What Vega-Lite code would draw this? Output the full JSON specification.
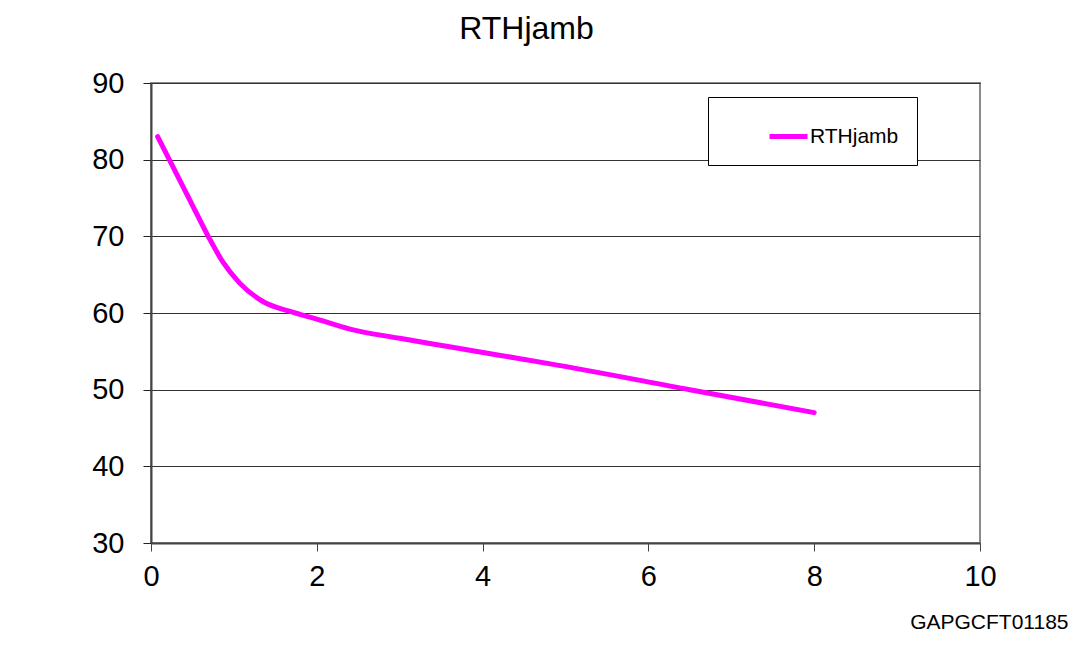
{
  "$schema": "https://vega.github.io/schema/vega-lite/v6.json",
  "width": 829,
  "height": 460,
  "autosize": "none",
  "padding": {"left": 151, "top": 83, "right": 110, "bottom": 103},
  "background": "white",
  "title": {
    "text": "RTHjamb",
    "font": "Liberation Sans",
    "fontSize": 32,
    "fontWeight": "normal",
    "color": "black",
    "anchor": "middle",
    "frame": "group",
    "dx": -39,
    "baseline": "alphabetic",
    "offset": -2
  },
  "config": {
    "view": {"stroke": "#8a8a8a", "strokeWidth": 2},
    "font": "Liberation Sans"
  },
  "data": {
    "values": [
      {"x": 0.08, "y": 83.0, "series": "RTHjamb"},
      {"x": 0.47, "y": 74.7, "series": "RTHjamb"},
      {"x": 0.69, "y": 70.0, "series": "RTHjamb"},
      {"x": 0.87, "y": 66.6, "series": "RTHjamb"},
      {"x": 1.07, "y": 63.9, "series": "RTHjamb"},
      {"x": 1.35, "y": 61.5, "series": "RTHjamb"},
      {"x": 1.68, "y": 60.2, "series": "RTHjamb"},
      {"x": 2.0, "y": 59.2, "series": "RTHjamb"},
      {"x": 2.4, "y": 57.9, "series": "RTHjamb"},
      {"x": 3.0, "y": 56.7, "series": "RTHjamb"},
      {"x": 3.6, "y": 55.6, "series": "RTHjamb"},
      {"x": 4.2, "y": 54.5, "series": "RTHjamb"},
      {"x": 4.8, "y": 53.4, "series": "RTHjamb"},
      {"x": 6.5, "y": 50.0, "series": "RTHjamb"},
      {"x": 8.0, "y": 47.0, "series": "RTHjamb"}
    ]
  },
  "mark": {"type": "line", "strokeWidth": 5, "strokeCap": "round", "interpolate": "monotone", "clip": false},
  "encoding": {
    "x": {
      "field": "x",
      "type": "quantitative",
      "scale": {"domain": [0, 10], "nice": false, "zero": false},
      "axis": {
        "values": [0, 2, 4, 6, 8, 10],
        "grid": false,
        "domainColor": "#444444",
        "domainWidth": 2,
        "tickColor": "#444444",
        "tickWidth": 1,
        "tickSize": 8,
        "labelFont": "Liberation Sans",
        "labelFontSize": 29,
        "labelColor": "black",
        "labelPadding": 11,
        "labelFlush": false,
        "title": "GAPGCFT01185",
        "titleFont": "Liberation Sans",
        "titleFontSize": 21,
        "titleFontWeight": "normal",
        "titleColor": "black",
        "titleX": 917,
        "titleY": 85,
        "titleAlign": "right",
        "titleBaseline": "alphabetic",
        "titleAnchor": "end"
      }
    },
    "y": {
      "field": "y",
      "type": "quantitative",
      "scale": {"domain": [30, 90], "nice": false, "zero": false},
      "axis": {
        "values": [30, 40, 50, 60, 70, 80, 90],
        "grid": true,
        "gridColor": "#333333",
        "gridWidth": 1,
        "domainColor": "#444444",
        "domainWidth": 2,
        "tickColor": "#222222",
        "tickWidth": 1,
        "tickSize": 8,
        "labelFont": "Liberation Sans",
        "labelFontSize": 29,
        "labelColor": "black",
        "labelPadding": 19,
        "labelFlush": false,
        "title": null
      }
    },
    "color": {
      "field": "series",
      "type": "nominal",
      "scale": {"domain": ["RTHjamb"], "range": ["#FF00FF"]},
      "legend": {
        "orient": "none",
        "legendX": 557,
        "legendY": 14,
        "title": null,
        "strokeColor": "black",
        "fillColor": "white",
        "padding": 18,
        "symbolType": "stroke",
        "symbolSize": 1444,
        "symbolStrokeWidth": 5,
        "symbolOffset": 41,
        "labelFont": "Liberation Sans",
        "labelFontSize": 21,
        "labelColor": "black",
        "labelOffset": 0,
        "labelExpr": "datum.label + '\u00a0\u00a0\u00a0\u00a0\u00a0\u00a0\u00a0'"
      }
    }
  }
}
